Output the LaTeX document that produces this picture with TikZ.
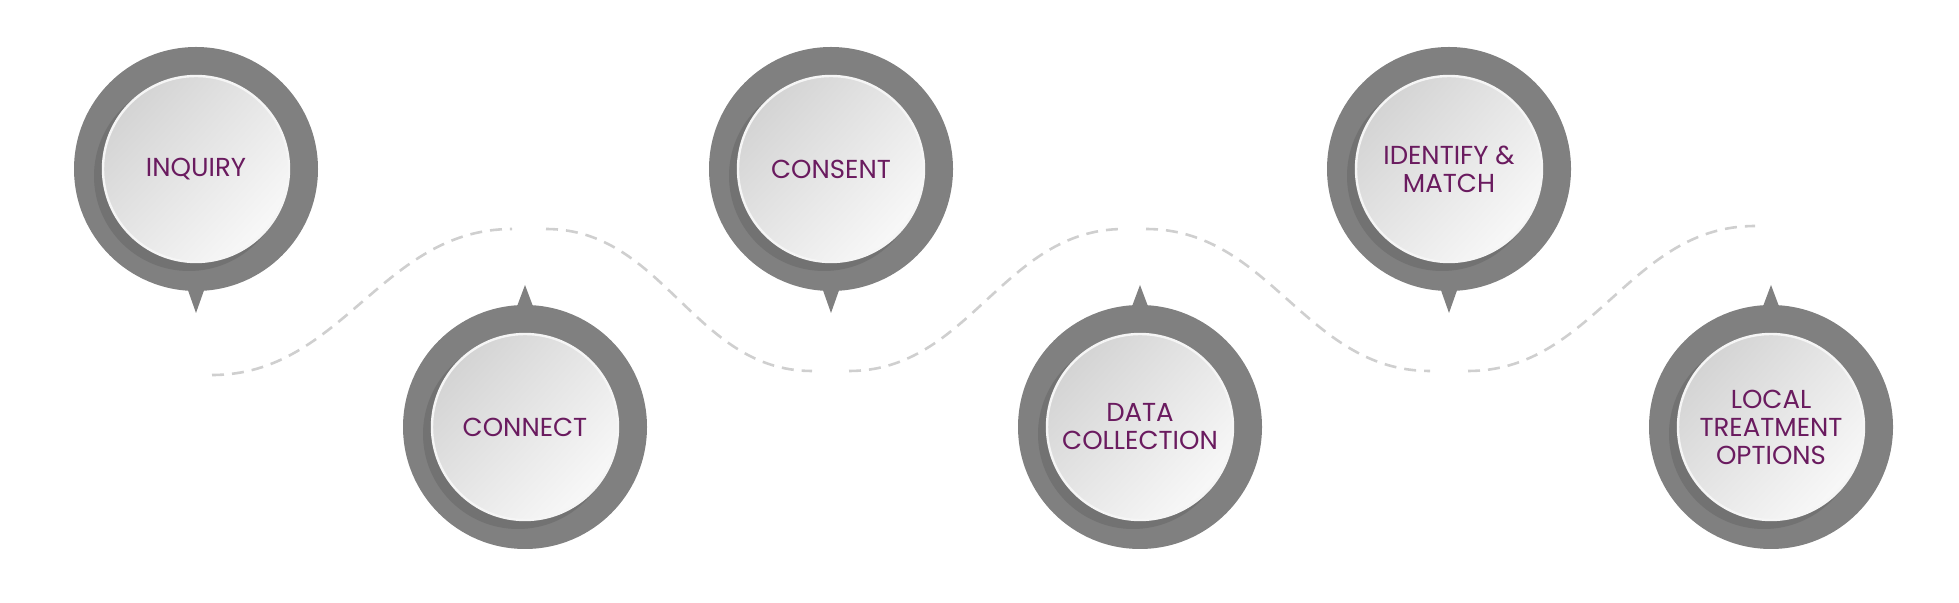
\documentclass[tikz,border=0pt]{standalone}
\usepackage{fontspec}
\setmainfont{Poppins}
\usetikzlibrary{calc,shadings}
\definecolor{ringgray}{HTML}{808080}
\definecolor{shadegray}{HTML}{727272}
\definecolor{wavegray}{HTML}{CFCFCF}
\definecolor{plum}{HTML}{6A1B5F}

\tikzset{
  pinring/.style   = {circle, fill=ringgray, minimum size=122pt, inner sep=0pt},
  pinshadow/.style = {circle, fill=shadegray, minimum size=95pt, inner sep=0pt},
  pinface/.style   = {circle, draw=white!92!gray, line width=1.2pt, minimum size=93pt, inner sep=0pt,
                      upper left=gray!40, upper right=gray!18, lower left=gray!20, lower right=white},
  pintext/.style   = {text=plum, font=\fontsize{13pt}{14pt}\selectfont, align=center},
  pathwave/.style  = {draw=wavegray, line width=1.3pt, dash pattern=on 6pt off 4pt}
}

\begin{document}
\begin{tikzpicture}[x=0.5pt, y=-0.5pt]

\useasboundingbox (0,0) rectangle (1959,603);

% dashed path behind the pins
\coordinate (w0) at (212,375);
\coordinate (w1) at (512,229);
\coordinate (w2) at (546,229);
\coordinate (w3) at (812,371);
\coordinate (w4) at (849,371);
\coordinate (w5) at (1124,229);
\coordinate (w6) at (1146,229);
\coordinate (w7) at (1430,371);
\coordinate (w8) at (1468,371);
\coordinate (w9) at (1755,226);

\draw[pathwave] (w0) to[out=0, in=180] (w1);
\draw[pathwave] (w2) to[out=0, in=180] (w3);
\draw[pathwave] (w4) to[out=0, in=180] (w5);
\draw[pathwave] (w6) to[out=0, in=180] (w7);
\draw[pathwave] (w8) to[out=0, in=180] (w9);

% rings
\node[pinring] (r1) at (196,169) {};
\node[pinring] (r2) at (525,427) {};
\node[pinring] (r3) at (831,169) {};
\node[pinring] (r4) at (1140,427) {};
\node[pinring] (r5) at (1449,169) {};
\node[pinring] (r6) at (1771,427) {};

% pointers
\fill[ringgray] ($(r1)+(-12,110)$) -- ($(r1)+(0,144)$) -- ($(r1)+(12,110)$) -- cycle;
\fill[ringgray] ($(r2)+(-12,-110)$) -- ($(r2)+(0,-142)$) -- ($(r2)+(12,-110)$) -- cycle;
\fill[ringgray] ($(r3)+(-12,110)$) -- ($(r3)+(0,144)$) -- ($(r3)+(12,110)$) -- cycle;
\fill[ringgray] ($(r4)+(-12,-110)$) -- ($(r4)+(0,-142)$) -- ($(r4)+(12,-110)$) -- cycle;
\fill[ringgray] ($(r5)+(-12,110)$) -- ($(r5)+(0,144)$) -- ($(r5)+(12,110)$) -- cycle;
\fill[ringgray] ($(r6)+(-12,-110)$) -- ($(r6)+(0,-142)$) -- ($(r6)+(12,-110)$) -- cycle;

% shadows
\node[pinshadow] at ($(r1)+(-7,7)$) {};
\node[pinshadow] at ($(r2)+(-7,7)$) {};
\node[pinshadow] at ($(r3)+(-7,7)$) {};
\node[pinshadow] at ($(r4)+(-7,7)$) {};
\node[pinshadow] at ($(r5)+(-7,7)$) {};
\node[pinshadow] at ($(r6)+(-7,7)$) {};

% faces
\node[pinface] (f1) at (r1) {};
\node[pinface] (f2) at (r2) {};
\node[pinface] (f3) at (r3) {};
\node[pinface] (f4) at (r4) {};
\node[pinface] (f5) at (r5) {};
\node[pinface] (f6) at (r6) {};

% labels
\node[pintext] (inquiry)  at (f1) {INQUIRY};
\node[pintext] (connect)  at (f2) {CONNECT};
\node[pintext] (consent)  at (f3) {CONSENT};
\node[pintext] (data)     at (f4) {DATA\\COLLECTION};
\node[pintext] (identify) at (f5) {IDENTIFY \&\\MATCH};
\node[pintext] (local)    at (f6) {LOCAL\\TREATMENT\\OPTIONS};

\end{tikzpicture}
\end{document}
